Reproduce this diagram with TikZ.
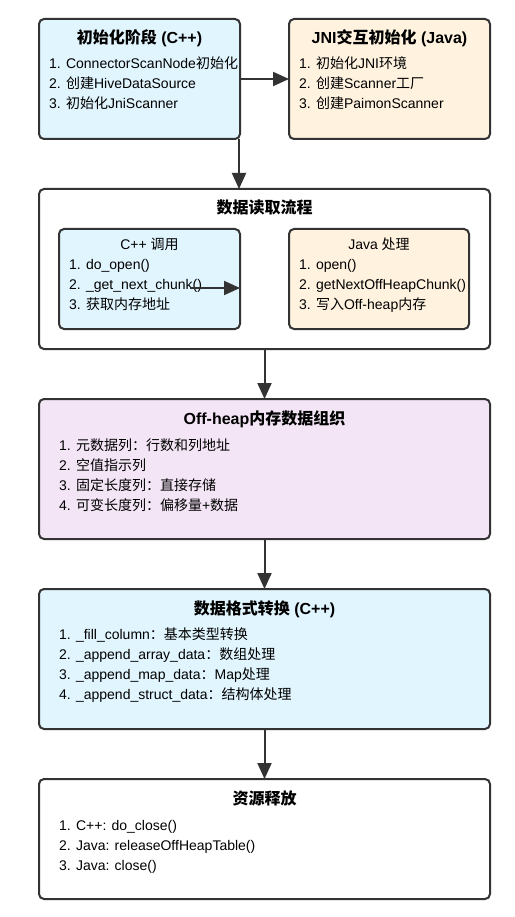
\documentclass[tikz,border=0pt]{standalone}
\usepackage{fontspec}
\setmainfont{Liberation Sans}
\newfontfamily\cjk{Noto Sans CJK SC}
\usetikzlibrary{arrows.meta}
\newcommand{\C}[1]{{\cjk #1}}
\definecolor{bordc}{HTML}{333333}
\definecolor{bluef}{HTML}{E1F5FE}
\definecolor{orangef}{HTML}{FFF3E0}
\definecolor{purplef}{HTML}{F3E5F5}
\tikzset{
  box/.style={draw=bordc, line width=2pt, rounded corners=5pt, inner sep=0pt, outer sep=0pt},
  ttl/.style={anchor=base, inner sep=0pt, font=\fontsize{16}{20}\selectfont\bfseries},
  sub/.style={anchor=base, inner sep=0pt, font=\fontsize{14}{20}\selectfont},
  itm/.style={anchor=base west, inner sep=0pt, font=\fontsize{14}{20}\selectfont},
  arr/.style={draw=bordc, line width=2pt, -{Triangle[length=16pt,width=14pt]}}
}
\begin{document}
\begin{tikzpicture}[x=1pt,y=-1pt]
\useasboundingbox (0,0) rectangle (514,917);
% boxes
\node[box, fill=bluef, minimum width=201pt, minimum height=120pt] (A) at (139.5,79) {};
\node[box, fill=orangef, minimum width=201pt, minimum height=120pt] (B) at (389.5,79) {};
\node[box, fill=white, minimum width=451pt, minimum height=160pt] (C) at (264.5,269) {};
\node[box, fill=bluef, minimum width=181pt, minimum height=100pt] (Cc) at (149.5,279) {};
\node[box, fill=orangef, minimum width=180pt, minimum height=100pt] (Cj) at (379,279) {};
\node[box, fill=purplef, minimum width=451pt, minimum height=140pt] (D) at (264.5,469) {};
\node[box, fill=bluef, minimum width=451pt, minimum height=140pt] (E) at (264.5,659) {};
\node[box, fill=white, minimum width=451pt, minimum height=120pt] (F) at (264.5,839) {};
% texts A
\node[ttl] (At) at (139.5,44) {\C{初始化阶段} (C++)};
\node[itm] (A1) at (49,69) {1. ConnectorScanNode\C{初始化}};
\node[itm] (A2) at (49,89) {2. \C{创建}HiveDataSource};
\node[itm] (A3) at (49,109) {3. \C{初始化}JniScanner};
% texts B
\node[ttl] (Bt) at (389.5,44) {JNI\C{交互初始化} (Java)};
\node[itm] (B1) at (299,69) {1. \C{初始化}JNI\C{环境}};
\node[itm] (B2) at (299,89) {2. \C{创建}Scanner\C{工厂}};
\node[itm] (B3) at (299,109) {3. \C{创建}PaimonScanner};
% texts C
\node[ttl] (Ct) at (264.5,214) {\C{数据读取流程}};
\node[sub] (Cct) at (149.5,249) {C++ \C{调用}};
\node[itm] (Cc1) at (69,269) {1. do\_open()};
\node[itm] (Cc2) at (69,289) {2. \_get\_next\_chunk()};
\node[itm] (Cc3) at (69,309) {3. \C{获取内存地址}};
\node[sub] (Cjt) at (379,249) {Java \C{处理}};
\node[itm] (Cj1) at (299,269) {1. open()};
\node[itm] (Cj2) at (299,289) {2. getNextOffHeapChunk()};
\node[itm] (Cj3) at (299,309) {3. \C{写入}Off-heap\C{内存}};
% texts D
\node[ttl] (Dt) at (264.5,424) {Off-heap\C{内存数据组织}};
\node[itm] (D1) at (59,450) {1. \C{元数据列：行数和列地址}};
\node[itm] (D2) at (59,470) {2. \C{空值指示列}};
\node[itm] (D3) at (59,490) {3. \C{固定长度列：直接存储}};
\node[itm] (D4) at (59,510) {4. \C{可变长度列：偏移量}+\C{数据}};
% texts E
\node[ttl] (Et) at (264.5,614) {\C{数据格式转换} (C++)};
\node[itm] (E1) at (59,639) {1. \_fill\_column\C{：基本类型转换}};
\node[itm] (E2) at (59,659) {2. \_append\_array\_data\C{：数组处理}};
\node[itm] (E3) at (59,679) {3. \_append\_map\_data\C{：}Map\C{处理}};
\node[itm] (E4) at (59,699) {4. \_append\_struct\_data\C{：结构体处理}};
% texts F
\node[ttl] (Ft) at (264.5,804) {\C{资源释放}};
\node[itm] (F1) at (59,830) {1. C++: do\_close()};
\node[itm] (F2) at (59,850) {2. Java: releaseOffHeapTable()};
\node[itm] (F3) at (59,870) {3. Java: close()};
% connectors
\draw[arr] (A) -- (B);
\coordinate (As) at ([xshift=-1pt]A.south east);
\draw[arr] (As) -- (As |- C.north);
\coordinate (ins) at (190,288);
\draw[arr] (ins) -- (ins -| Cc.east);
\draw[arr] (C) -- (D);
\draw[arr] (D) -- (E);
\draw[arr] (E) -- (F);
\end{tikzpicture}
\end{document}
